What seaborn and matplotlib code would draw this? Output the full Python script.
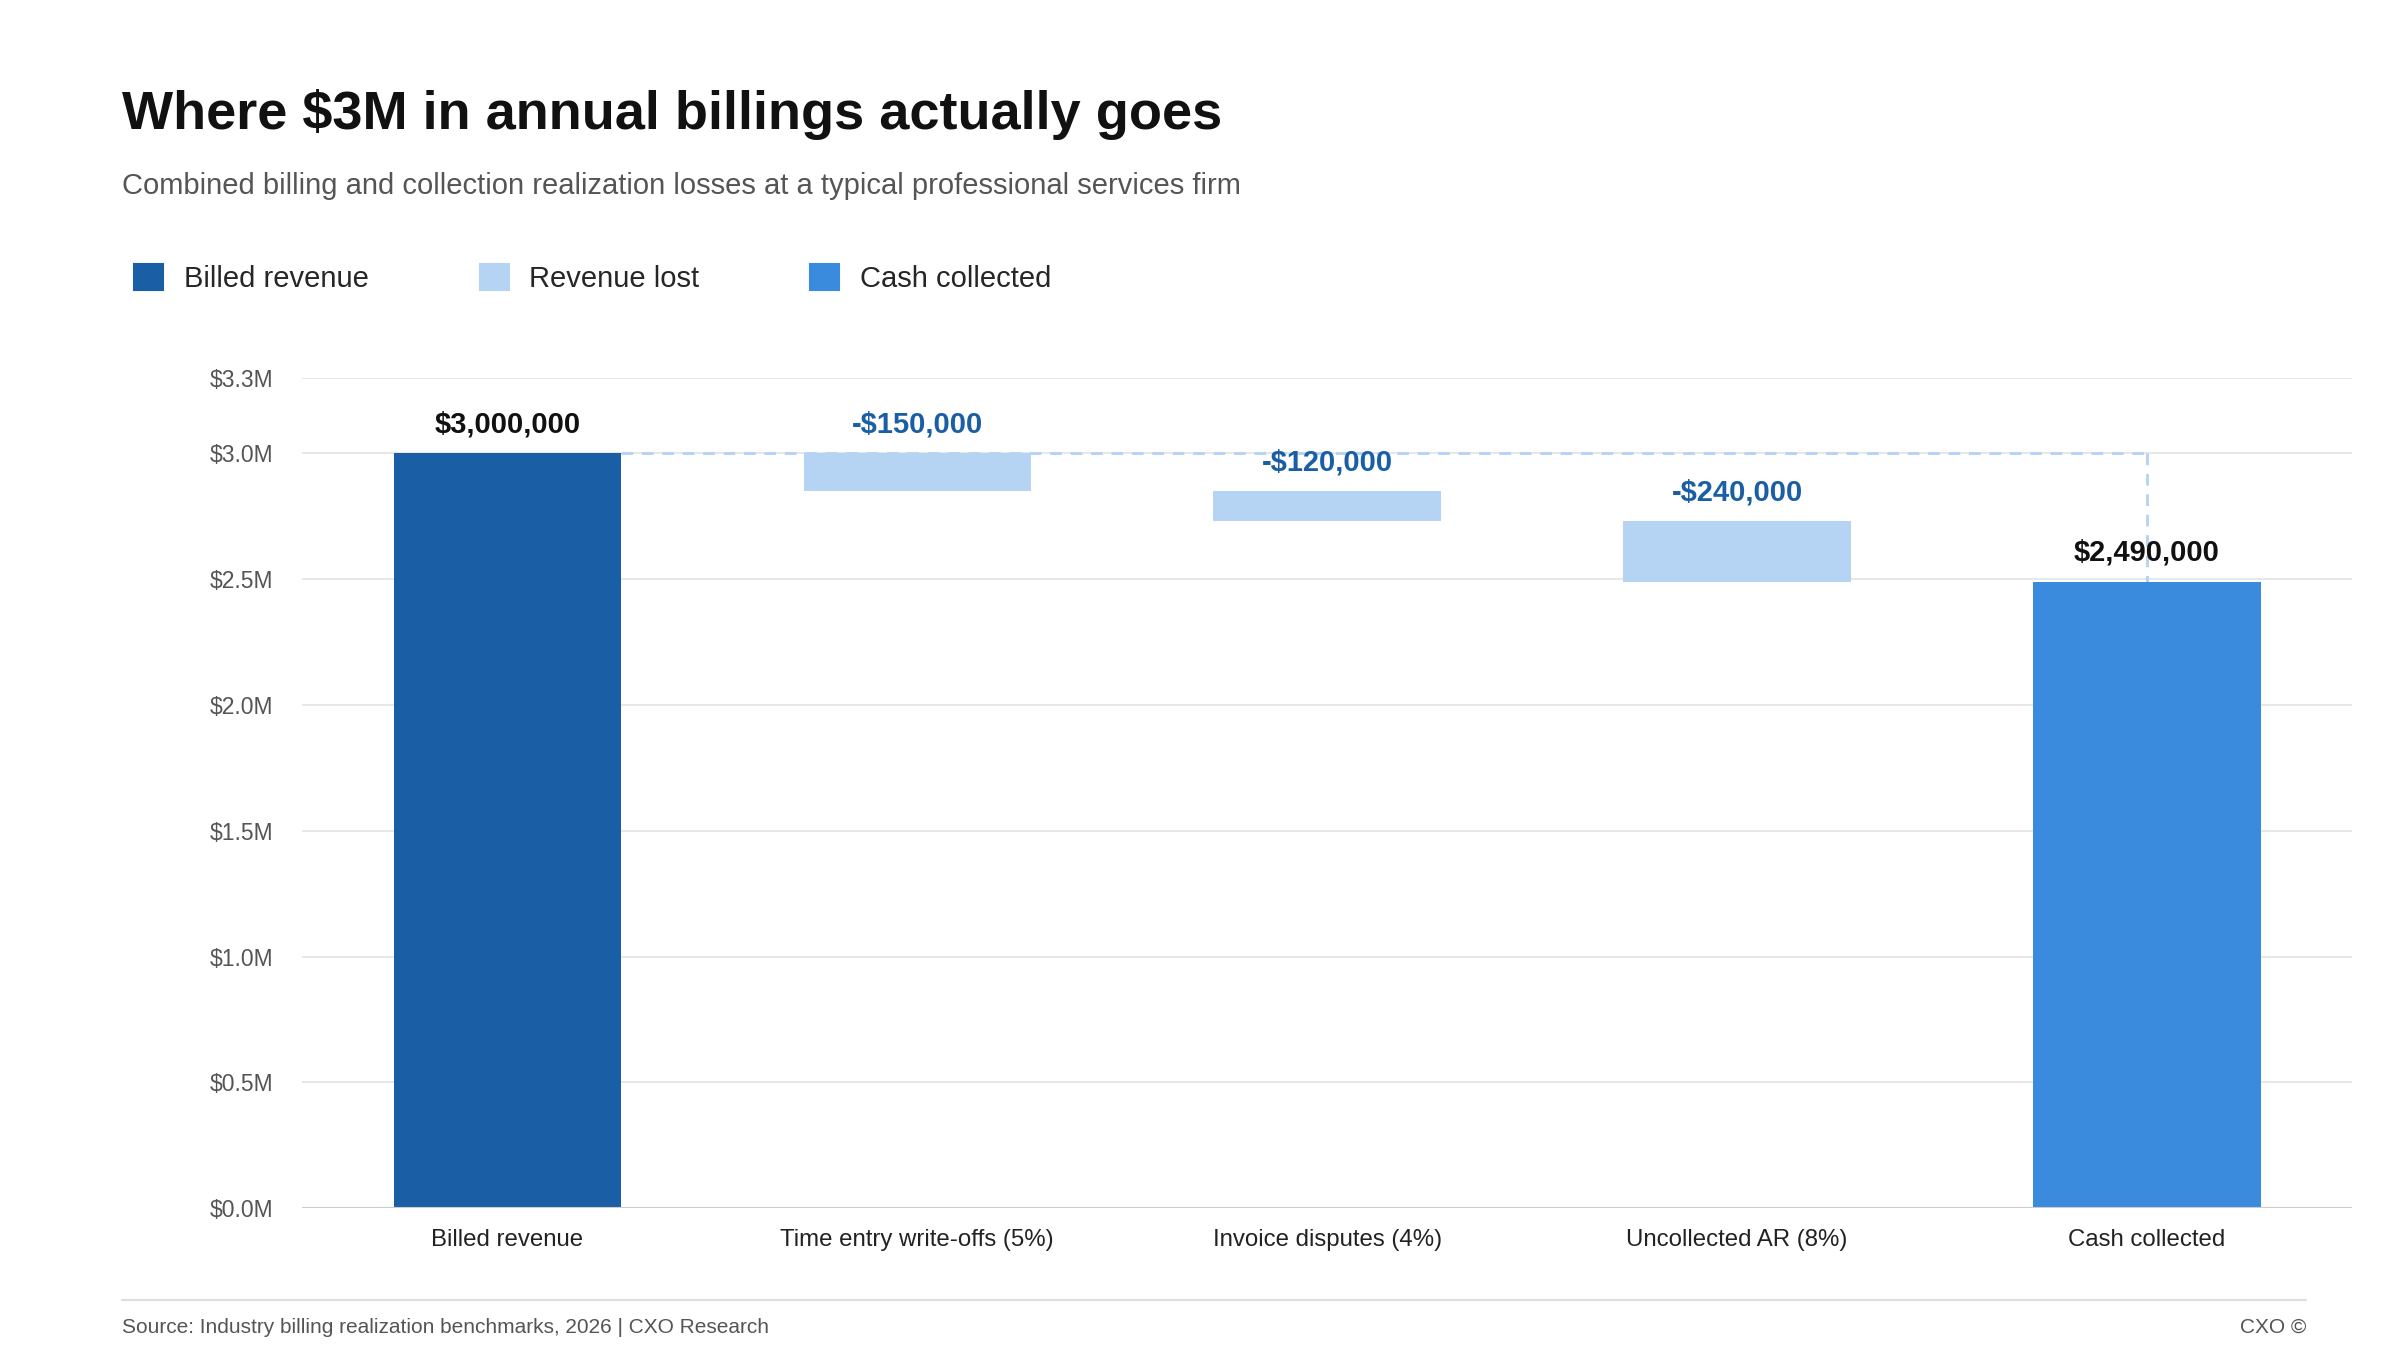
import matplotlib
matplotlib.use("Agg")
import matplotlib.pyplot as plt
import seaborn as sns
import pandas as pd
from matplotlib.patches import Patch

categories = ["Billed revenue", "Time entry write-offs (5%)", "Invoice disputes (4%)", "Uncollected AR (8%)", "Cash collected"]
changes = [3000000, -150000, -120000, -240000, 2490000]
kinds = ["Billed revenue", "Revenue lost", "Revenue lost", "Revenue lost", "Cash collected"]
labels = ["$3,000,000", "-$150,000", "-$120,000", "-$240,000", "$2,490,000"]
yticks = [0, 500000, 1000000, 1500000, 2000000, 2500000, 3000000, 3300000]
yticklabels = ["$0.0M", "$0.5M", "$1.0M", "$1.5M", "$2.0M", "$2.5M", "$3.0M", "$3.3M"]
colors = {"Billed revenue": "#1a5fa6", "Revenue lost": "#b5d4f4", "Cash collected": "#3a8ade"}

# compute bar bottoms/tops
bottoms, tops = [], []
run = 0
for k, c in zip(kinds, changes):
    if k == "Revenue lost":
        tops.append(run); bottoms.append(run + c); run += c
    else:
        bottoms.append(0); tops.append(c); run = c

sns.set_theme(style="white")
plt.rcParams['font.family'] = ['Liberation Sans', 'DejaVu Sans']
fig = plt.figure(figsize=(16, 9), dpi=150)
ax = fig.add_axes([0.126, 0.105, 0.854, 0.615])

df = pd.DataFrame({"cat": categories, "top": tops, "kind": kinds})
sns.barplot(data=df, x="cat", y="top", hue="kind", palette=colors, dodge=False,
            width=0.555, legend=False, ax=ax, saturation=1)
for p in ax.patches:
    xc = p.get_x() + p.get_width() / 2
    i = int(round(xc))
    if 0 <= i < len(categories) and p.get_height() > 0:
        p.set_y(bottoms[i]); p.set_height(tops[i] - bottoms[i])
        p.set_linewidth(0)

ax.set_ylim(0, 3300000)
ax.set_xlim(-0.5, 4.5)
ax.set_yticks(yticks)
ax.set_yticklabels(yticklabels, fontsize=11, color="#555555")
ax.tick_params(axis="x", labelsize=11.5, colors="#222222", length=0, pad=10)
ax.tick_params(axis="y", length=0, pad=14)
ax.set_xlabel(""); ax.set_ylabel("")
for y in yticks:
    ax.axhline(y, color="#e6e6e6", lw=0.9, zorder=0)
for s in ax.spines.values():
    s.set_visible(False)
ax.axhline(0, color="#cccccc", lw=1, zorder=1)

# connector
ax.plot([0.2775, 4], [3000000, 3000000], ls=(0, (4, 3)), color="#b5d4f4", lw=1.4, zorder=0.5)
ax.plot([4, 4], [3000000, 2490000], ls=(0, (4, 3)), color="#b5d4f4", lw=1.4, zorder=0.5)

for i, lab in enumerate(labels):
    col = "#1a5fa6" if kinds[i] == "Revenue lost" else "#111111"
    ax.text(i, tops[i] + 60000, lab, ha="center", va="bottom", fontsize=14,
            fontweight="bold", color=col)

fig.text(0.051, 0.915, "Where $3M in annual billings actually goes", fontsize=26,
         fontweight="bold", color="#111111", va="center")
fig.text(0.051, 0.862, "Combined billing and collection realization losses at a typical professional services firm",
         fontsize=14, color="#555555", va="center")
handles = [Patch(color=colors[k]) for k in ["Billed revenue", "Revenue lost", "Cash collected"]]
fig.legend(handles, ["Billed revenue", "Revenue lost", "Cash collected"], loc="center left",
           bbox_to_anchor=(0.045, 0.794), ncol=3, frameon=False, fontsize=14,
           handlelength=1.0, handleheight=1.0, columnspacing=3.8, handletextpad=0.7)

fig.add_artist(plt.Line2D([0.051, 0.961], [0.037, 0.037], transform=fig.transFigure, color="#dddddd", lw=1))
fig.text(0.051, 0.017, "Source: Industry billing realization benchmarks, 2026 | CXO Research",
         fontsize=10, color="#555555", va="center")
fig.text(0.961, 0.017, "CXO ©", fontsize=10, color="#555555", va="center", ha="right")
fig.savefig("out.png", dpi=150)
